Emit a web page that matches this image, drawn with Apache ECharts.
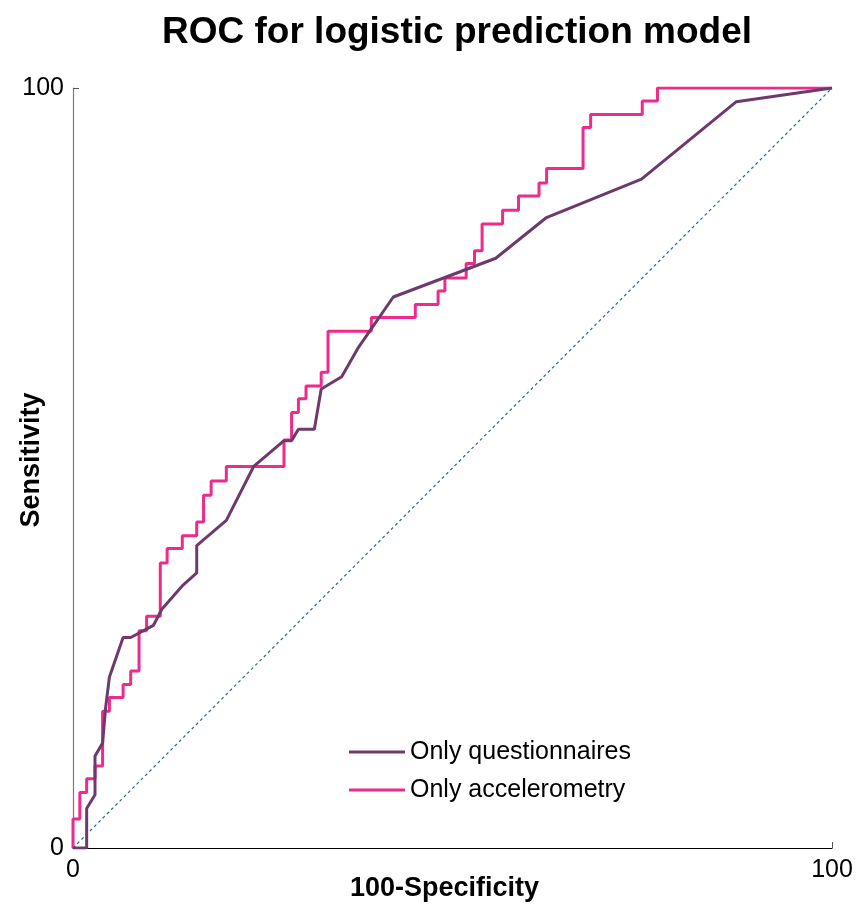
<!DOCTYPE html>
<html>
<head>
<meta charset="utf-8">
<script src="https://cdn.jsdelivr.net/npm/echarts@6/dist/echarts.min.js"></script>
<style>
  html, body { margin: 0; padding: 0; background: #fff; }
  #chart { width: 867px; height: 910px; }
</style>
</head>
<body>
<div id="chart"></div>
<script>
// ROC curves (100-specificity, sensitivity)
const accelX = [0, 0, 0.9, 1.8, 2.9, 3.9, 4.8, 6.6, 7.6, 8.7, 9.7, 11.5, 12.4, 14.4, 16.3, 17.2, 18.2, 20.2,
  27.8, 28.8, 29.7, 30.7, 32.7, 33.6, 39.3, 45.1, 48.1, 49.0, 51.8, 52.9, 53.9, 56.6, 58.7, 61.4, 62.4,
  67.2, 68.2, 75.0, 77.0, 100];
const accelY = [0, 3.8, 7.3, 9.1, 10.8, 18.0, 19.8, 21.5, 23.3, 28.6, 30.5, 37.5, 39.4, 41.1, 42.9, 46.4, 48.3, 50.2,
  53.7, 57.3, 59.1, 60.8, 62.6, 68.0, 69.8, 71.5, 73.3, 75.0, 76.9, 78.6, 82.1, 83.9, 85.8, 87.5, 89.4,
  94.8, 96.5, 98.3, 100, 100];

const questX = [0, 1.8, 1.8, 2.9, 2.9, 3.9, 4.3, 4.8, 6.6, 7.6, 10.6, 11.7, 14.5, 16.3, 16.3, 20.2, 23.8,
  27.8, 28.8, 29.7, 31.8, 32.7, 35.4, 37.5, 42.2, 55.7, 62.3, 74.9, 87.4, 100];
const questY = [0, 0, 5.2, 7.0, 12.1, 13.8, 18.5, 22.5, 27.7, 27.7, 29.3, 31.4, 34.6, 36.2, 39.8, 43.1, 50.2,
  53.6, 53.6, 55.1, 55.1, 60.4, 62.0, 65.7, 72.5, 77.6, 82.9, 88.0, 98.2, 100];

const chanceX = [0, 100];
const chanceY = [0, 100];

const axisTicks = [0, 100];

function pairs(xs, ys) {
  return xs.map((x, i) => [x, ys[i]]);
}

const FONT = 'Liberation Sans, Arial, sans-serif';

const chart = echarts.init(document.getElementById('chart'));

chart.setOption({
  animation: false,
  backgroundColor: '#fff',
  title: {
    text: 'ROC for logistic prediction model',
    left: 452,
    textAlign: 'center',
    top: 9,
    textStyle: { fontFamily: FONT, fontSize: 37, fontWeight: 'bold', color: '#000' }
  },
  grid: { left: 73, right: 35, top: 88, bottom: 62, outerBoundsMode: 'none', containLabel: false },
  legend: {
    data: ['Only questionnaires', 'Only accelerometry'],
    orient: 'vertical',
    left: 344,
    top: 732,
    icon: 'rect',
    itemWidth: 56,
    itemHeight: 3,
    itemGap: 8,
    textStyle: { fontFamily: FONT, fontSize: 25, color: '#000', lineHeight: 30 }
  },
  xAxis: {
    type: 'value',
    min: axisTicks[0],
    max: axisTicks[1],
    interval: 100,
    name: '100-Specificity',
    nameLocation: 'middle',
    nameGap: 27,
    nameMoveOverlap: false,
    nameTextStyle: { fontFamily: FONT, fontSize: 27, fontWeight: 'bold', color: '#000', padding: [0, 16, 0, 0] },
    axisLine: { lineStyle: { color: '#000', width: 1.2 } },
    axisTick: { inside: true, length: 6, lineStyle: { color: '#555' } },
    axisLabel: { fontFamily: FONT, fontSize: 25, color: '#000', margin: 10 },
    splitLine: { show: false }
  },
  yAxis: {
    type: 'value',
    min: axisTicks[0],
    max: axisTicks[1],
    interval: 100,
    name: 'Sensitivity',
    nameLocation: 'middle',
    nameGap: 28,
    nameRotate: 90,
    nameMoveOverlap: false,
    nameTextStyle: { fontFamily: FONT, fontSize: 27, fontWeight: 'bold', color: '#000', padding: [0, 0, 0, 16] },
    axisLine: { show: true, lineStyle: { color: '#7a7a7a', width: 1.2 } },
    axisTick: { show: true, inside: true, length: 6, lineStyle: { color: '#555' } },
    axisLabel: { fontFamily: FONT, fontSize: 25, color: '#000', margin: 9 },
    splitLine: { show: false }
  },
  series: [
    {
      name: 'chance',
      type: 'line',
      data: pairs(chanceX, chanceY),
      showSymbol: false,
      silent: true,
      lineStyle: { color: '#2f62a0', width: 1.2, type: [3, 3] },
      z: 1
    },
    {
      name: 'Only accelerometry',
      type: 'line',
      step: 'end',
      data: pairs(accelX, accelY),
      showSymbol: false,
      itemStyle: { color: '#ee2a8c' },
      lineStyle: { color: '#ee2a8c', width: 3 },
      z: 2
    },
    {
      name: 'Only questionnaires',
      type: 'line',
      data: pairs(questX, questY),
      showSymbol: false,
      itemStyle: { color: '#6e3a6c' },
      lineStyle: { color: '#6e3a6c', width: 3 },
      z: 3
    }
  ]
});
</script>
</body>
</html>
